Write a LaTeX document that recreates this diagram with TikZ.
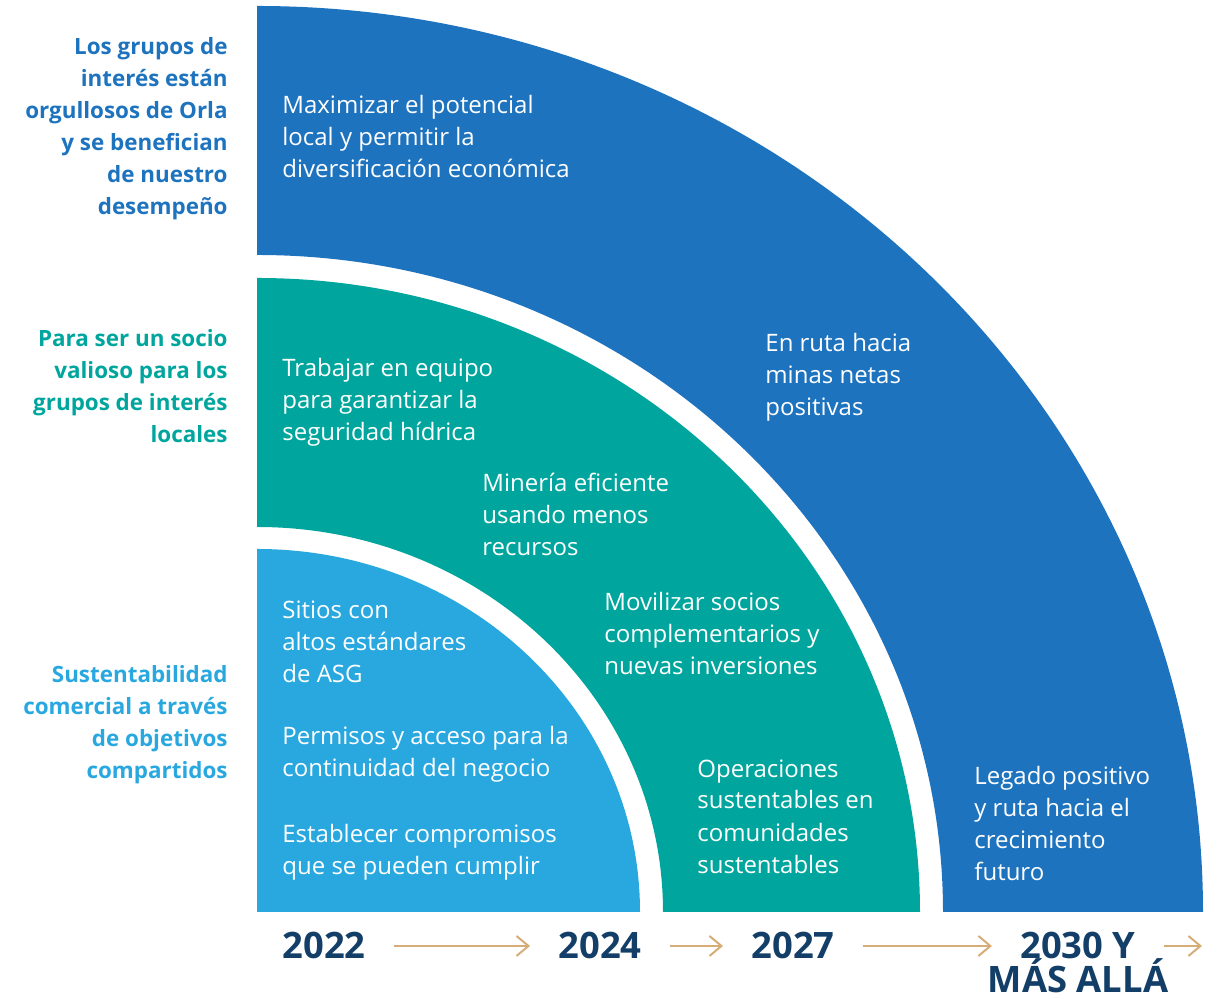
\documentclass[tikz,border=0pt]{standalone}
\usepackage{fontspec}
\setmainfont{Open Sans}
\usetikzlibrary{arrows.meta}
\definecolor{darkband}{RGB}{30,115,190}
\definecolor{tealband}{RGB}{0,166,157}
\definecolor{lightband}{RGB}{41,168,224}
\definecolor{yearnavy}{RGB}{18,62,104}
\definecolor{arrowtan}{RGB}{214,172,120}
\begin{document}
\begin{tikzpicture}[x=0.5pt,y=0.5pt,
	bandtext/.style={anchor=north west,inner sep=0pt,align=left,text=white,font=\fontsize{12}{16}\selectfont},
	goal/.style={anchor=north east,inner sep=0pt,align=right,font=\fontsize{11.2}{16}\selectfont\bfseries},
	year/.style={inner xsep=14pt,inner ysep=0pt,text height=13pt,text depth=0pt,text=yearnavy,font=\fontsize{18.2}{17.5}\selectfont\bfseries},
	yeararrow/.style={draw=arrowtan,line width=1pt,-{Straight Barb[length=6pt,width=10pt]}}]
	\useasboundingbox (0,0) rectangle (1227,999);
	\coordinate (c) at (257,87);
	% bands
	\fill[darkband] (c) ++(686,0) -- ++(260,0) arc[start angle=0,end angle=90,x radius=473pt,y radius=453pt]
		-- ++(0,-249) arc[start angle=90,end angle=0,x radius=343pt,y radius=328.5pt] -- cycle;
	\fill[tealband] (c) ++(406,0) -- ++(257,0) arc[start angle=0,end angle=90,x radius=331.5pt,y radius=317pt]
		-- ++(0,-249) arc[start angle=90,end angle=0,x radius=203pt,y radius=192.5pt] -- cycle;
	\fill[lightband] (c) -- ++(383,0) arc[start angle=0,end angle=90,x radius=191.5pt,y radius=181.5pt] -- cycle;
	% goals on the left
	\node[goal,text=darkband] (gdark) at (228,962) {Los grupos de\\interés están\\orgullosos de Orla\\y se benefician\\de nuestro\\desempeño};
	\node[goal,text=tealband] (gteal) at (228,670) {Para ser un socio\\valioso para los\\grupos de interés\\locales};
	\node[goal,text=lightband] (glight) at (228,334) {Sustentabilidad\\comercial a través\\de objetivos\\compartidos};
	% dark band
	\node[bandtext] (potencial) at (282,904) {Maximizar el potencial\\local y permitir la\\diversificación económica};
	\node[bandtext] (minas) at (765,666) {En ruta hacia\\minas netas\\positivas};
	\node[bandtext] (legado) at (974,233) {Legado positivo\\y ruta hacia el\\crecimiento\\futuro};
	% teal band
	\node[bandtext] (hidrica) at (282,641) {Trabajar en equipo\\para garantizar la\\seguridad hídrica};
	\node[bandtext] (eficiente) at (482,526) {Minería eficiente\\usando menos\\recursos};
	\node[bandtext] (socios) at (604,407) {Movilizar socios\\complementarios y\\nuevas inversiones};
	\node[bandtext] (operaciones) at (697,240) {Operaciones\\sustentables en\\comunidades\\sustentables};
	% light band
	\node[bandtext] (sitios) at (282,398) {Sitios con\\altos estándares\\de ASG};
	\node[bandtext] (permisos) at (282,273) {Permisos y acceso para la\\continuidad del negocio};
	\node[bandtext] (compromisos) at (282,175) {Establecer compromisos\\que se pueden cumplir};
	% years
	\node[year] (y22) at (324,53) {2022};
	\node[year] (y24) at (600,53) {2024};
	\node[year] (y27) at (793,53) {2027};
	\node[year] (y30) at (1078,53) {2030 Y};
	\node[year] (ymas) at (1078,19) {MÁS ALLÁ};
	\coordinate (later) at (1202,53);
	\draw[yeararrow] (y22) -- (y24);
	\draw[yeararrow] (y24) -- (y27);
	\draw[yeararrow] (y27) -- (y30);
	\draw[yeararrow] (y30) -- (later);
\end{tikzpicture}
\end{document}
